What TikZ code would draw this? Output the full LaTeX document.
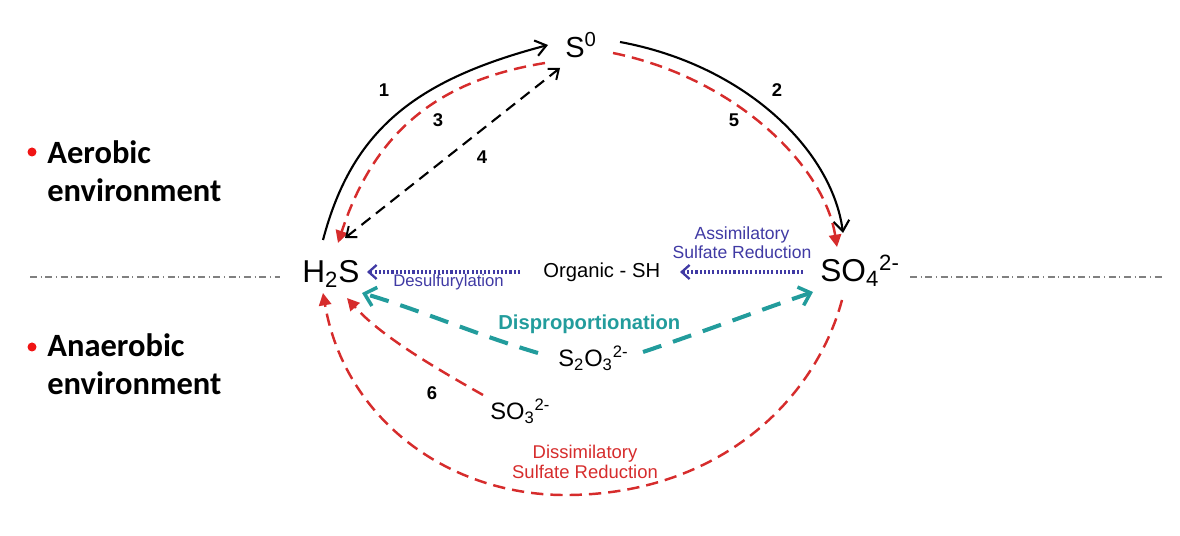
\documentclass[tikz,border=0pt]{standalone}
\usepackage{fontspec}
\setmainfont{Liberation Sans}
\newfontfamily\calib{Carlito}
\usetikzlibrary{arrows.meta}
\definecolor{rdash}{RGB}{214,44,44}
\definecolor{tealc}{RGB}{34,156,156}
\definecolor{bluec}{RGB}{64,58,164}
\definecolor{bulletred}{RGB}{240,20,20}
\begin{document}
\begin{tikzpicture}[x=0.02cm,y=-0.02cm,
  chem/.style={inner sep=0pt,anchor=base west,font=\fontsize{18}{20}\selectfont},
  chems/.style={inner sep=0pt,anchor=base west,font=\fontsize{13.5}{15}\selectfont},
  num/.style={inner sep=0pt,font=\fontsize{10.5}{12}\selectfont\bfseries},
  side/.style={inner sep=0pt,anchor=base west,align=left,font=\calib\bfseries\fontsize{18.5}{22}\selectfont},
  blk/.style={line width=1.2pt,-{Straight Barb[length=6pt,width=9pt,line width=1.2pt]}},
  blkd/.style={line width=1.2pt,dash pattern=on 6.5pt off 4pt,{Straight Barb[length=5pt,width=8pt,line width=1.1pt]}-{Straight Barb[length=5pt,width=8pt,line width=1.1pt]}},
  red/.style={rdash,line width=1.4pt,dash pattern=on 7pt off 4pt,-{Triangle[length=7pt,width=7pt]}},
  tealarr/.style={tealc,line width=2.3pt,dash pattern=on 11pt off 7pt,-{Straight Barb[length=6pt,width=11pt,line width=2pt]}},
  bluearr/.style={bluec,line width=2pt,dash pattern=on 1.2pt off 1.2pt,-{Straight Barb[length=4.5pt,width=8pt,line width=1.3pt]}},
  divline/.style={gray,line width=0.7pt,dash pattern=on 4pt off 2pt on 0.7pt off 2pt}
]
\useasboundingbox (0,0) rectangle (1180,536);

% side labels
\fill[bulletred] (32,152) circle (4.5);
\fill[bulletred] (32,347) circle (4.5);
\node[side] (aer) at (47,202) {Aerobic\\environment};
\node[side] (ana) at (47,395) {Anaerobic\\environment};

% divider
\coordinate (dl1) at (30,277);
\coordinate (dl2) at (280,277);
\coordinate (dr1) at (910,277);
\coordinate (dr2) at (1162,277);
\draw[divline] (dl1) -- (dl2);
\draw[divline] (dr1) -- (dr2);

% species
\node[chem] (h2s) at (302,283) {H\textsubscript{2}S};
\node[chem,font=\fontsize{16.5}{18}\selectfont] (s0) at (565,58) {S\textsuperscript{0}};
\node[chem] (so4) at (820,282) {SO\textsubscript{4}\textsuperscript{2-}};
\node[chem,font=\fontsize{11.5}{13}\selectfont] (org) at (543,278) {Organic - SH};
\node[chems] (s2o3) at (558,367) {S\textsubscript{2}O\textsubscript{3}\textsuperscript{2-}};
\node[chems] (so3) at (490,420) {SO\textsubscript{3}\textsuperscript{2-}};

% labels
\node[num] (n1) at (384,90) {1};
\node[num] (n3) at (438,120) {3};
\node[num] (n4) at (482,157) {4};
\node[num] (n2) at (777,90) {2};
\node[num] (n5) at (734,120) {5};
\node[num] (n6) at (432,393) {6};
\node[inner sep=0pt,anchor=base west,text=bluec,font=\fontsize{9.5}{11}\selectfont] (desl) at (393,287) {Desulfurylation};
\node[inner sep=0pt,anchor=base,text=bluec,align=center,font=\fontsize{10}{11.3}\selectfont] (asl) at (742,259) {Assimilatory\\Sulfate Reduction};
\node[inner sep=0pt,anchor=base west,text=tealc,font=\fontsize{11.5}{13}\selectfont\bfseries] (dpl) at (498,330) {Disproportionation};
\node[inner sep=0pt,anchor=base,text=rdash,align=center,font=\fontsize{10.5}{11.5}\selectfont] (dsl) at (585,479) {Dissimilatory\\Sulfate Reduction};

% aerobic arrows
\draw[blk] ([shift={(21,-43)}]h2s.base west) .. controls (352,130) and (415,80) .. ([shift={(-17,-13)}]s0.base west);
\draw[red] ([shift={(-20,5)}]s0.base west) .. controls (440,80) and (375,130) .. ([shift={(36,-40)}]h2s.base west);
\draw[blkd] ([shift={(43,-45)}]h2s.base west) -- ([shift={(-5,10)}]s0.base west);
\draw[blk] ([shift={(55,-16)}]s0.base west) .. controls (745,65) and (832,150) .. ([shift={(23,-49)}]so4.base west);
\draw[red] ([shift={(48,-5)}]s0.base west) .. controls (735,78) and (824,165) .. ([shift={(17,-35)}]so4.base west);

% assimilatory / desulfurylation
\draw[bluearr] ([shift={(-23,-6)}]org.base west) -- ([shift={(65,-11)}]h2s.base west);
\draw[bluearr] ([shift={(-17,-10)}]so4.base west) -- ([shift={(137,-6)}]org.base west);

% disproportionation
\draw[tealarr] ([shift={(-20,-14)}]s2o3.base west) .. controls (480,336) and (420,310) .. ([shift={(60,10)}]h2s.base west);
\draw[tealarr] ([shift={(85,-15)}]s2o3.base west) .. controls (700,333) and (760,310) .. ([shift={(-7,10)}]so4.base west);

% anaerobic reductions
\draw[red] ([shift={(-7,-25)}]so3.base west) .. controls (430,365) and (380,335) .. ([shift={(45,15)}]h2s.base west);
\draw[red] ([shift={(22,18)}]so4.base west) .. controls (815,400) and (720,493) .. (570,495) .. controls (450,497) and (345,420) .. ([shift={(21,10)}]h2s.base west);
\end{tikzpicture}
\end{document}
